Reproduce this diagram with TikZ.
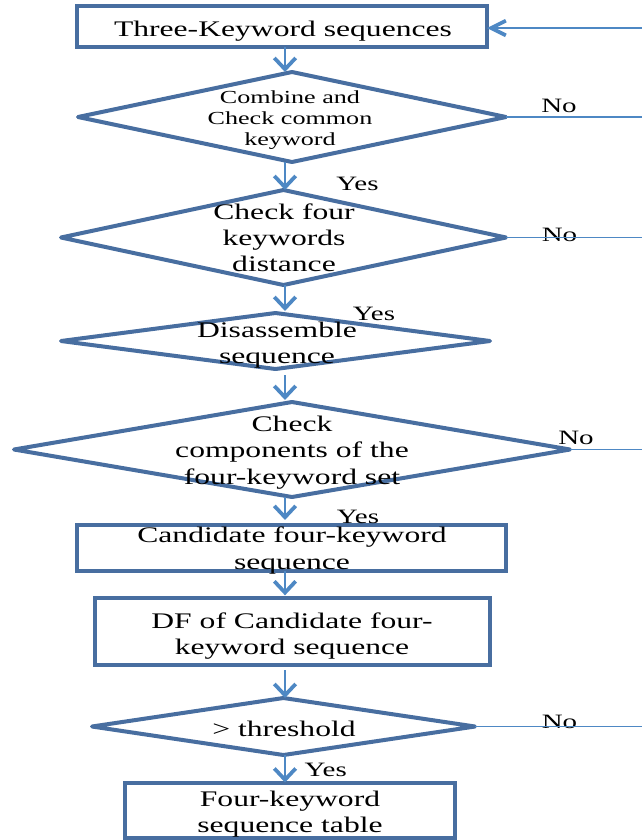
\documentclass[tikz,border=0pt]{standalone}
\usepackage{fontspec}
\setmainfont{Liberation Serif}[FakeStretch=1.42]
\usetikzlibrary{shapes.geometric,arrows.meta,calc}
\definecolor{bordercol}{RGB}{72,110,160}
\definecolor{conncol}{RGB}{78,136,196}
\begin{document}
\begin{tikzpicture}[x=0.75pt,y=-0.75pt,
  boxshape/.style={draw=bordercol,line width=3pt,rectangle,inner sep=0pt,outer sep=0pt},
  decision/.style={draw=bordercol,line width=3pt,diamond,inner sep=0pt,outer sep=0pt,line join=round},
  maintext/.style={align=center,inner sep=0pt,font=\fontsize{16.7}{19.7}\selectfont},
  smalltext/.style={align=center,inner sep=0pt,font=\fontsize{13.8}{15.75}\selectfont},
  lbl/.style={inner sep=0pt,anchor=base,font=\fontsize{15.3}{18}\selectfont},
  conn/.style={draw=conncol,line width=1.1pt,-{Straight Barb[length=8.5pt,width=16pt,line width=2.8pt]}},
  hconn/.style={draw=conncol,line width=1.1pt,-{Straight Barb[length=11pt,width=11pt,line width=2.8pt]}},
  plain/.style={draw=conncol,line width=1.1pt}]
\fill[white] (0,0) rectangle (642,840);
\useasboundingbox (0,0) rectangle (642,840);
\coordinate (ax) at (285,0);
\coordinate (r0) at (642,28);

% shapes
\node[boxshape,minimum width=410*0.75pt,minimum height=41*0.75pt] (b1) at (282,26.5) {};
\node[maintext,anchor=base] (t1) at (283,36.7) {Three-Keyword sequences};

\node[decision,minimum width=428*0.75pt,minimum height=90*0.75pt] (d1) at (292,117) {};
\node[smalltext] (t2) at (290,120) {Combine and\\Check common\\keyword};

\node[decision,minimum width=445*0.75pt,minimum height=95*0.75pt] (d2) at (283.5,237.5) {};
\node[maintext] (t3) at (284,237.8) {Check four\\keywords\\distance};

\node[decision,minimum width=429*0.75pt,minimum height=56*0.75pt] (d3) at (275.5,341) {};
\node[maintext] (t4) at (277,345) {Disassemble\\sequence};

\node[decision,minimum width=556*0.75pt,minimum height=95*0.75pt] (d4) at (292,449.5) {};
\node[maintext] (t5) at (292,452.6) {Check\\components of the\\four-keyword set};

\node[boxshape,minimum width=429*0.75pt,minimum height=46*0.75pt] (b2) at (291.5,547.5) {};
\node[maintext] (t6) at (292,550.5) {Candidate four-keyword\\sequence};

\node[boxshape,minimum width=395*0.75pt,minimum height=67*0.75pt] (b3) at (292.5,631.5) {};
\node[maintext] (t7) at (292,635.9) {DF of Candidate four-\\keyword sequence};

\node[decision,minimum width=383*0.75pt,minimum height=57*0.75pt] (d5) at (283.5,726.5) {};
\node[maintext,anchor=base] (t8) at (284,736.7) {> threshold};

\node[boxshape,minimum width=330*0.75pt,minimum height=55*0.75pt] (b4) at (290,810) {};
\node[maintext] (t9) at (290,814.3) {Four-keyword\\sequence table};

% labels
\node[lbl] (no1) at (559,112.7) {No};
\node[lbl] (no2) at (559.5,241.7) {No};
\node[lbl] (no3) at (576,444) {No};
\node[lbl] (no4) at (559.5,728.3) {No};
\node[lbl] (yes1) at (357.5,190.7) {Yes};
\node[lbl] (yes2) at (374,320) {Yes};
\node[lbl] (yes3) at (358,523.3) {Yes};
\node[lbl] (yes4) at (325.7,776.7) {Yes};

% connectors
\draw[hconn] (r0) -- (r0 -| b1.east);
\draw[conn] (b1.south -| ax) -- (d1.north -| ax);
\draw[conn] (d1.south -| ax) -- (d2.north -| ax);
\draw[conn] (d2.south -| ax) -- ([yshift=1.5pt]d3.north -| ax);
\draw[conn,shorten <=4.5pt] (d3.south -| ax) -- ([yshift=1.5pt]d4.north -| ax);
\draw[conn,shorten >=3.4pt] (d4.south -| ax) -- (b2.north -| ax);
\draw[conn,shorten >=2pt] (b2.south -| ax) -- (b3.north -| ax);
\draw[conn,shorten <=3.75pt] (b3.south -| ax) -- (d5.north -| ax);
\draw[conn] (d5.south -| ax) -- (b4.north -| ax);

\draw[plain] (d1.east) -- (d1.east -| r0);
\draw[plain] (d2.east) -- (d2.east -| r0);
\draw[plain] (d4.east) -- (d4.east -| r0);
\draw[plain] (d5.east) -- (d5.east -| r0);
\end{tikzpicture}
\end{document}
